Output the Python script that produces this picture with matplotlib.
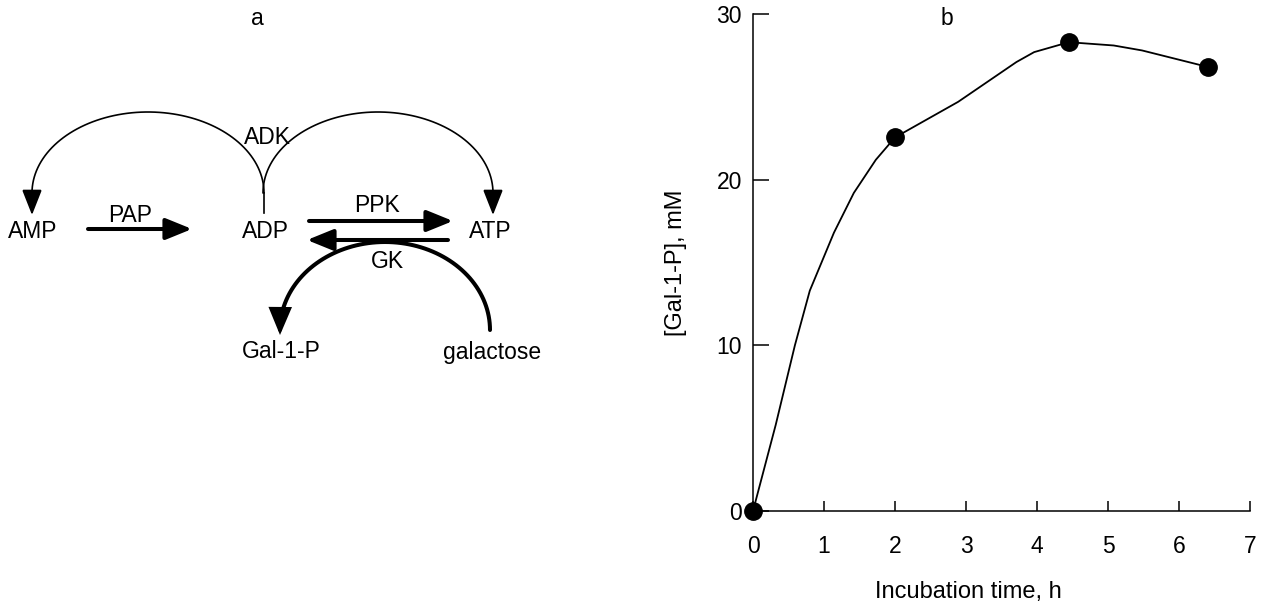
import numpy as np
import matplotlib.pyplot as plt
from matplotlib.patches import FancyArrowPatch
from matplotlib.path import Path

plt.rcParams['font.family'] = ['Liberation Sans', 'DejaVu Sans']
plt.rcParams['font.size'] = 16.5

# measured points (panel b)
time_pts = [0, 2.0, 4.45, 6.41]
gal_pts = [0, 22.55, 28.3, 26.8]

# traced smooth curve through the points
curve_t = [0, 0.32, 0.59, 0.80, 1.14, 1.42, 1.73, 2.0, 2.89, 3.71, 3.96, 4.45, 4.6, 5.08, 5.48, 6.41]
curve_y = [0, 5.2, 10.0, 13.3, 16.8, 19.2, 21.2, 22.55, 24.7, 27.1, 27.7, 28.3, 28.25, 28.1, 27.8, 26.8]

x_ticks = [0, 1, 2, 3, 4, 5, 6, 7]
y_ticks = [0, 10, 20, 30]

W, H = 1263, 606
fig = plt.figure(figsize=(W / 100, H / 100), dpi=100)

# ---------- panel a: reaction scheme, drawn in pixel coords ----------
ax0 = fig.add_axes([0, 0, 700 / W, 1])
ax0.set_xlim(0, 700)
ax0.set_ylim(H, 0)
ax0.axis('off')


def half_ellipse(cx, cy, rx, ry, a0, a1, n=80):
    th = np.radians(np.linspace(a0, a1, n))
    return list(zip(cx + rx * np.cos(th), cy - ry * np.sin(th)))


def draw_path(pts, lw, hl, hw):
    p = FancyArrowPatch(path=Path(pts), arrowstyle='-|>,head_length=%s,head_width=%s' % (hl, hw),
                        mutation_scale=1, lw=lw, color='black', joinstyle='miter')
    ax0.add_patch(p)


def straight(x0, x1, y, lw=2.9):
    ax0.add_patch(FancyArrowPatch((x0, y), (x1, y), arrowstyle='-|>,head_length=16,head_width=6.5',
                                  mutation_scale=1, lw=lw, color='black', shrinkA=0, shrinkB=0))


# ADK arcs
ax0.plot([264, 264], [213, 193], color='black', lw=1.2)
draw_path(half_ellipse(148, 193, 116, 81, 0, 180) + [(32, 215)], 1.2, 16, 6.3)
draw_path(half_ellipse(378, 193, 115, 81, 180, 0) + [(493, 215)], 1.2, 16, 6.3)

# GK arc
draw_path(half_ellipse(385, 330, 105, 88, 0, 178) + [(280, 335)], 2.9, 15, 6.3)

# straight arrows
straight(88, 192, 229)   # PAP
straight(309, 453, 221)  # PPK
straight(448, 307, 240)  # GK

labels = [('AMP', 33, 232), ('ADP', 265, 232), ('ATP', 490, 232), ('PAP', 130, 215),
          ('PPK', 377, 205), ('GK', 387, 262), ('ADK', 267, 138),
          ('Gal-1-P', 281, 352), ('galactose', 492, 352)]
for s, x, y in labels:
    ax0.text(x, y, s, ha='center', va='center')
ax0.text(257, 25, 'a', ha='center', va='baseline')

# ---------- panel b: kinetics ----------
ax = fig.add_axes([753 / W, 1 - 511 / H, (1250 - 753) / W, (511 - 14) / H])
ax.plot(curve_t, curve_y, color='black', lw=1.3, clip_on=False)
ax.plot(time_pts, gal_pts, 'o', color='black', ms=12.5, clip_on=False, zorder=5)
ax.set_xlim(0, 7)
ax.set_ylim(0, 30)
ax.set_xticks(x_ticks)
ax.set_yticks(y_ticks)
for side in ['top', 'right']:
    ax.spines[side].set_visible(False)
for side in ['left', 'bottom']:
    ax.spines[side].set_linewidth(1.1)
ax.tick_params(axis='x', direction='in', length=7, width=1.1, pad=17)
ax.tick_params(axis='y', direction='in', length=11.5, width=1.1, pad=8)
ax.set_xlabel('Incubation time, h', fontsize=17)
ax.set_ylabel('[Gal-1-P], mM', fontsize=17)
ax.xaxis.set_label_coords(0.433, -0.14)
ax.yaxis.set_label_coords(-0.133, 0.5)
fig.text(947 / W, 1 - 25 / H, 'b', ha='center', va='baseline')

plt.savefig('out.png', dpi=100)
